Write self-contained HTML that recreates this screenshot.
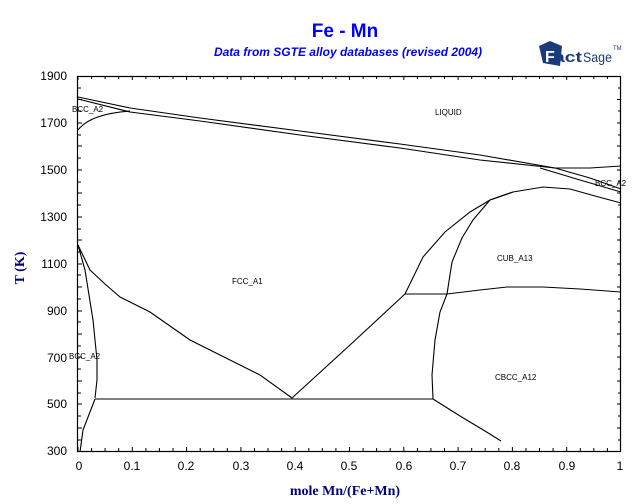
<!DOCTYPE html>
<html><head><meta charset="utf-8"><style>
html,body{margin:0;padding:0;background:#fff;}
svg{display:block;}
</style></head><body>
<svg width="640" height="504" viewBox="0 0 640 504" xmlns="http://www.w3.org/2000/svg">
<rect width="640" height="504" fill="#fff"/>
<text x="345" y="37" text-anchor="middle" font-family="Liberation Sans, sans-serif" font-weight="bold" font-size="19" fill="#0000ff">Fe - Mn</text>
<text x="348" y="56" text-anchor="middle" font-family="Liberation Sans, sans-serif" font-weight="bold" font-style="italic" font-size="12" fill="#0000ff">Data from SGTE alloy databases (revised 2004)</text>
<g font-family="Liberation Sans, sans-serif">
<path d="M539 46 L550 41 L562 46 L560 66 L543 63 Z" fill="#1a3a7a"/>
<text x="545" y="62" font-weight="bold" font-size="16" fill="#fff">F</text>
<text x="554" y="62" font-weight="bold" font-size="15" fill="#1a3a7a" textLength="28" lengthAdjust="spacingAndGlyphs">act</text>
<text x="583" y="62" font-size="14" fill="#1a3a7a" textLength="29" lengthAdjust="spacingAndGlyphs">Sage</text>
<text x="613" y="50" font-size="6" fill="#1a3a7a">TM</text>
</g>
<g stroke="#000" fill="none" stroke-width="1.2">
<rect x="77.5" y="76.5" width="543" height="375"/>
</g>
<g font-family="Liberation Sans, sans-serif" font-size="12" fill="#000" text-anchor="end">
<text x="67" y="80">1900</text><text x="67" y="127">1700</text><text x="67" y="174">1500</text><text x="67" y="221">1300</text><text x="67" y="268">1100</text><text x="67" y="315">900</text><text x="67" y="362">700</text><text x="67" y="408">500</text><text x="67" y="455">300</text>
</g>
<g font-family="Liberation Sans, sans-serif" font-size="12" fill="#000" text-anchor="middle">
<text x="79" y="470">0</text><text x="132" y="470">0.1</text><text x="186" y="470">0.2</text><text x="241" y="470">0.3</text><text x="295" y="470">0.4</text><text x="349" y="470">0.5</text><text x="404" y="470">0.6</text><text x="458" y="470">0.7</text><text x="512" y="470">0.8</text><text x="567" y="470">0.9</text><text x="620" y="470">1</text>
</g>
<text x="345" y="495" text-anchor="middle" font-family="Liberation Serif, serif" font-weight="bold" font-size="14" fill="#000080">mole Mn/(Fe+Mn)</text>
<text transform="translate(24,268) rotate(-90)" text-anchor="middle" font-family="Liberation Serif, serif" font-weight="bold" font-size="14" fill="#000080">T (K)</text>
<g font-family="Liberation Sans, sans-serif" font-size="8" fill="#000">
<text x="72" y="112">BCC_A2</text>
<text x="435" y="115">LIQUID</text>
<text x="595" y="186">BCC_A2</text>
<text x="497" y="261">CUB_A13</text>
<text x="232" y="284">FCC_A1</text>
<text x="69" y="359">BCC_A2</text>
<text x="495" y="380">CBCC_A12</text>
</g>
<g stroke="#000" fill="none" stroke-width="1.1">
<polyline points="78,97 130,108 200,118 300,131 400,144 480,155 555,168 590,168 621,166"/>
<polyline points="78,99 130,112 200,121 300,135 400,148 480,160 555,168"/>
<path d="M78,130 Q90,114 130,111"/>
<polyline points="555,168 590,178 621,189"/>
<polyline points="540,168 580,180 621,192"/>
<polyline points="405,294 423,257 445,232 470,212 490,200 513,192 543,187 570,189 595,196 621,203"/>
<polyline points="447,294 452,262 462,238 473,220 490,200 513,192"/>
<polyline points="405,294 447,294"/>
<polyline points="447,294 480,290 507,287 543,287 580,289 621,292"/>
<polyline points="447,294 440,312 435,340 432,375 433,399"/>
<polyline points="405,294 350,345 292,398"/>
<polyline points="78,245 90,270 105,284 120,297 150,312 190,340 230,360 260,375 292,398"/>
<polyline points="78,245 85,270 93,320 97,360 97,380 95,398"/>
<polyline points="95,399 433,399"/>
<polyline points="95,399 83,430 80,452"/>
<polyline points="433,399 460,416 485,431 501,441"/>
</g>
<g stroke="#000" stroke-width="1">
<path d="M78,76v4M91.6,76v3M105.1,76v3M118.7,76v3M132.3,76v4M145.9,76v3M159.4,76v3M173,76v3M186.6,76v4M200.2,76v3M213.7,76v3M227.3,76v3M240.9,76v4M254.5,76v3M268,76v3M281.6,76v3M295.2,76v4M308.8,76v3M322.3,76v3M335.9,76v3M349.5,76v4M363.1,76v3M376.6,76v3M390.2,76v3M403.8,76v4M417.4,76v3M430.9,76v3M444.5,76v3M458.1,76v4M471.7,76v3M485.2,76v3M498.8,76v3M512.4,76v4M526,76v3M539.5,76v3M553.1,76v3M566.7,76v4M580.3,76v3M593.8,76v3M607.4,76v3"/>
<path d="M78,451v-4M91.6,451v-3M105.1,451v-3M118.7,451v-3M132.3,451v-4M145.9,451v-3M159.4,451v-3M173,451v-3M186.6,451v-4M200.2,451v-3M213.7,451v-3M227.3,451v-3M240.9,451v-4M254.5,451v-3M268,451v-3M281.6,451v-3M295.2,451v-4M308.8,451v-3M322.3,451v-3M335.9,451v-3M349.5,451v-4M363.1,451v-3M376.6,451v-3M390.2,451v-3M403.8,451v-4M417.4,451v-3M430.9,451v-3M444.5,451v-3M458.1,451v-4M471.7,451v-3M485.2,451v-3M498.8,451v-3M512.4,451v-4M526,451v-3M539.5,451v-3M553.1,451v-3M566.7,451v-4M580.3,451v-3M593.8,451v-3M607.4,451v-3"/>
<path d="M78,88h3M78,99.5h4M78,111h3M78,123h4M78,135h3M78,146h4M78,158h3M78,170h4M78,182h3M78,193h4M78,205h3M78,217h4M78,229h3M78,240h4M78,252h3M78,264h4M78,275h3M78,287h4M78,299h3M78,311h4M78,322h3M78,334h4M78,346h3M78,357h4M78,369h3M78,381h4M78,393h3M78,404h4M78,416h3M78,428h4M78,440h3"/>
<path d="M621,88h-3M621,99.5h-4M621,111h-3M621,123h-4M621,135h-3M621,146h-4M621,158h-3M621,170h-4M621,182h-3M621,193h-4M621,205h-3M621,217h-4M621,229h-3M621,240h-4M621,252h-3M621,264h-4M621,275h-3M621,287h-4M621,299h-3M621,311h-4M621,322h-3M621,334h-4M621,346h-3M621,357h-4M621,369h-3M621,381h-4M621,393h-3M621,404h-4M621,416h-3M621,428h-4M621,440h-3"/>
</g>
</svg>
</body></html>
